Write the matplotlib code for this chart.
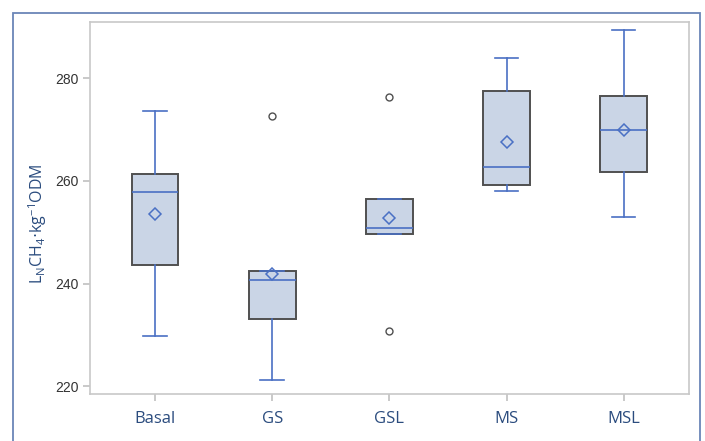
import matplotlib
matplotlib.use('Agg')
import matplotlib.pyplot as plt
from matplotlib.patches import Rectangle

# box statistics per diet
groups = ['Basal', 'GS', 'GSL', 'MS', 'MSL']
whislo = [229.7, 221.2, 249.6, 258.1, 252.9]
q1 = [243.7, 233.1, 249.6, 259.2, 261.7]
med = [257.8, 240.6, 250.8, 262.6, 269.9]
q3 = [261.4, 242.5, 256.4, 277.5, 276.5]
whishi = [273.5, 242.5, 256.4, 283.8, 289.3]
means = [253.5, 241.8, 252.8, 267.5, 269.8]
fliers = [[], [272.7], [276.4, 230.8], [], []]

blue = '#4A70C4'
edge = '#505050'
label_blue = '#2B4C7E'

stats = []
for i, g in enumerate(groups):
    stats.append({'label': g, 'whislo': whislo[i], 'q1': q1[i], 'med': med[i],
                  'q3': q3[i], 'whishi': whishi[i], 'mean': means[i],
                  'fliers': fliers[i]})

fig = plt.figure(figsize=(7.05, 4.41), dpi=100)
ax = fig.add_axes([90 / 705, 1 - 394 / 441, 599 / 705, 372 / 441])

ax.bxp(stats, positions=range(1, 6), widths=0.4, patch_artist=True,
       showmeans=True, showfliers=True,
       boxprops=dict(facecolor='#CAD5E6', edgecolor=edge, linewidth=1.4),
       whiskerprops=dict(color=blue, linewidth=1.2),
       capprops=dict(color=blue, linewidth=1.2),
       medianprops=dict(color=blue, linewidth=1.2),
       meanprops=dict(marker='D', markerfacecolor='none', markeredgecolor=blue,
                      markersize=6, markeredgewidth=1.1),
       flierprops=dict(marker='o', markerfacecolor='none', markeredgecolor=edge,
                       markersize=5, markeredgewidth=1.0))

ax.set_xlim(0.445, 5.557)
ax.set_ylim(218.5, 290.9)
ax.set_yticks([220, 240, 260, 280])

for s in ax.spines.values():
    s.set_color('#C8C8C8')
    s.set_linewidth(1.2)
ax.tick_params(axis='both', color='#C0C0C0', length=5, width=1.2)
ax.tick_params(axis='y', labelsize=10, labelcolor='#333333', pad=3)
ax.tick_params(axis='x', labelsize=12, labelcolor=label_blue, pad=7)
for t in ax.get_yticklabels():
    t.set_fontfamily('Liberation Sans')
for t in ax.get_xticklabels():
    t.set_fontfamily('Open Sans')

ax.set_ylabel(r'L$_\mathregular{N}$CH$_\mathregular{4}$$\cdot$kg$^\mathregular{-1}$ODM',
              fontsize=11.5, color=label_blue, fontfamily='Open Sans')
ax.yaxis.set_label_coords(-0.068, 0.457)

# outer frame around the figure
fig.patches.append(Rectangle((13 / 705, -0.05), 687 / 705, 1 - 13 / 441 + 0.05,
                             transform=fig.transFigure, fill=False,
                             edgecolor='#6B86B8', linewidth=1.3))

fig.savefig('out.png', dpi=100, facecolor='white')
